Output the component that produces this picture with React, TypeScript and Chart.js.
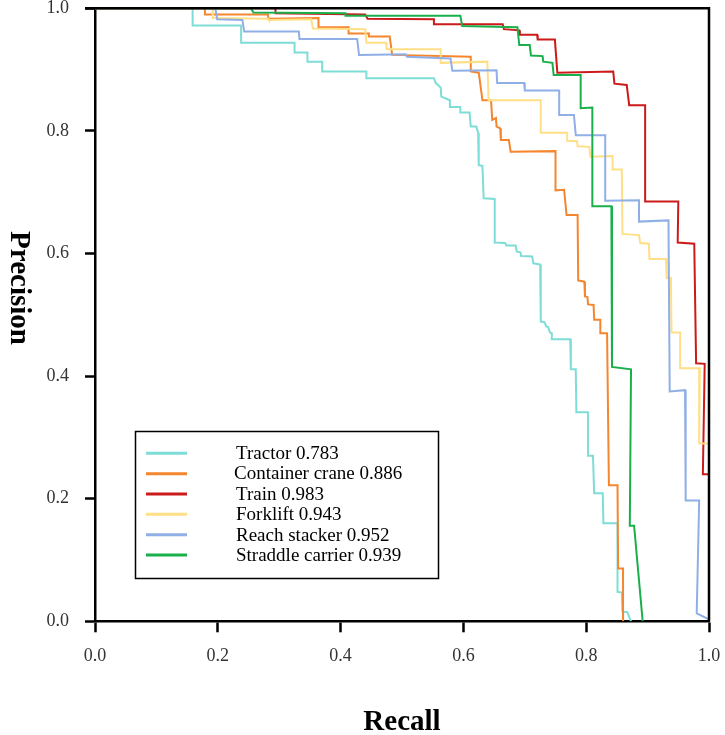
import React, { useEffect, useRef } from "react";
import { Chart, registerables } from "chart.js";

Chart.register(...registerables);

const seriesLabels = [
  "Tractor 0.783",
  "Container crane 0.886",
  "Train 0.983",
  "Forklift 0.943",
  "Reach stacker 0.952",
  "Straddle carrier 0.939",
];
const seriesColors = ["#7EDDD6", "#F5862E", "#CC1A1A", "#FFDF85", "#90AFE6", "#19B04B"];

const tickValues = [0, 0.2, 0.4, 0.6, 0.8, 1.0];

const tractorRecall = [0, 0.159, 0.159, 0.238, 0.238, 0.325, 0.325, 0.346, 0.346, 0.370, 0.370, 0.442, 0.442, 0.552, 0.555, 0.563, 0.564, 0.578, 0.578, 0.595, 0.595, 0.610, 0.612, 0.621, 0.624, 0.625, 0.631, 0.633, 0.651, 0.651, 0.668, 0.670, 0.685, 0.687, 0.693, 0.694, 0.712, 0.714, 0.725, 0.726, 0.732, 0.735, 0.738, 0.741, 0.744, 0.744, 0.774, 0.775, 0.783, 0.784, 0.803, 0.803, 0.811, 0.813, 0.827, 0.828, 0.851, 0.851, 0.858, 0.859, 0.867, 0.873];
const tractorPrecision = [1.0, 1.0, 0.972, 0.972, 0.944, 0.944, 0.928, 0.928, 0.913, 0.913, 0.897, 0.897, 0.886, 0.886, 0.878, 0.871, 0.856, 0.850, 0.839, 0.839, 0.830, 0.830, 0.807, 0.807, 0.797, 0.744, 0.743, 0.690, 0.689, 0.618, 0.617, 0.613, 0.613, 0.603, 0.602, 0.596, 0.595, 0.584, 0.582, 0.489, 0.488, 0.481, 0.480, 0.471, 0.470, 0.460, 0.460, 0.411, 0.411, 0.341, 0.341, 0.270, 0.270, 0.209, 0.209, 0.160, 0.160, 0.048, 0.047, 0.016, 0.015, 0.0];

const craneRecall = [0, 0.179, 0.179, 0.282, 0.282, 0.364, 0.364, 0.413, 0.413, 0.446, 0.446, 0.480, 0.484, 0.612, 0.612, 0.625, 0.631, 0.645, 0.647, 0.653, 0.654, 0.660, 0.661, 0.674, 0.677, 0.750, 0.750, 0.764, 0.768, 0.786, 0.787, 0.797, 0.798, 0.802, 0.803, 0.812, 0.813, 0.823, 0.823, 0.834, 0.837, 0.851, 0.852, 0.860, 0.860];
const cranePrecision = [1.0, 1.0, 0.990, 0.990, 0.983, 0.984, 0.969, 0.969, 0.959, 0.959, 0.954, 0.954, 0.924, 0.921, 0.897, 0.895, 0.850, 0.850, 0.818, 0.821, 0.807, 0.804, 0.785, 0.785, 0.766, 0.767, 0.703, 0.704, 0.663, 0.663, 0.556, 0.554, 0.530, 0.529, 0.517, 0.516, 0.492, 0.492, 0.470, 0.470, 0.222, 0.222, 0.086, 0.086, 0.0];

const trainRecall = [0, 0.294, 0.294, 0.440, 0.444, 0.552, 0.552, 0.664, 0.666, 0.691, 0.692, 0.720, 0.721, 0.749, 0.753, 0.844, 0.846, 0.866, 0.870, 0.896, 0.896, 0.950, 0.949, 0.976, 0.979, 0.993, 0.990, 1.0];
const trainPrecision = [1.0, 1.0, 0.992, 0.990, 0.983, 0.982, 0.974, 0.974, 0.966, 0.964, 0.957, 0.957, 0.949, 0.949, 0.895, 0.897, 0.877, 0.875, 0.842, 0.842, 0.685, 0.685, 0.618, 0.616, 0.421, 0.420, 0.240, 0.240];

const forkliftRecall = [0, 0.191, 0.192, 0.282, 0.283, 0.352, 0.355, 0.440, 0.442, 0.474, 0.475, 0.563, 0.563, 0.639, 0.641, 0.726, 0.726, 0.769, 0.769, 0.785, 0.786, 0.805, 0.807, 0.843, 0.843, 0.858, 0.859, 0.886, 0.888, 0.902, 0.903, 0.930, 0.931, 0.938, 0.939, 0.953, 0.953, 0.985, 0.984, 1.0];
const forkliftPrecision = [1.0, 1.0, 0.984, 0.983, 0.981, 0.982, 0.967, 0.966, 0.944, 0.944, 0.933, 0.933, 0.911, 0.913, 0.850, 0.850, 0.797, 0.797, 0.784, 0.783, 0.775, 0.774, 0.758, 0.759, 0.737, 0.737, 0.632, 0.630, 0.617, 0.616, 0.591, 0.591, 0.560, 0.560, 0.471, 0.471, 0.413, 0.413, 0.290, 0.290];

const reachRecall = [0, 0.196, 0.199, 0.240, 0.243, 0.332, 0.333, 0.427, 0.430, 0.506, 0.508, 0.579, 0.582, 0.654, 0.655, 0.699, 0.700, 0.756, 0.756, 0.780, 0.783, 0.831, 0.831, 0.886, 0.886, 0.934, 0.936, 0.961, 0.962, 0.984, 0.980, 1.0];
const reachPrecision = [1.0, 1.0, 0.982, 0.981, 0.962, 0.962, 0.950, 0.950, 0.924, 0.925, 0.921, 0.918, 0.898, 0.899, 0.878, 0.878, 0.866, 0.866, 0.826, 0.826, 0.793, 0.793, 0.686, 0.687, 0.652, 0.654, 0.375, 0.377, 0.197, 0.197, 0.013, 0.003];

const straddleRecall = [0, 0.254, 0.258, 0.408, 0.408, 0.595, 0.598, 0.688, 0.691, 0.708, 0.710, 0.729, 0.730, 0.745, 0.747, 0.791, 0.791, 0.810, 0.810, 0.841, 0.842, 0.873, 0.871, 0.878, 0.892];
const straddlePrecision = [1.0, 1.0, 0.993, 0.992, 0.988, 0.988, 0.971, 0.969, 0.940, 0.940, 0.923, 0.922, 0.913, 0.911, 0.891, 0.891, 0.837, 0.838, 0.677, 0.677, 0.415, 0.411, 0.156, 0.156, 0.0];

const seriesRecall = [tractorRecall, craneRecall, trainRecall, forkliftRecall, reachRecall, straddleRecall];
const seriesPrecision = [tractorPrecision, cranePrecision, trainPrecision, forkliftPrecision, reachPrecision, straddlePrecision];

const SERIF = "'Liberation Serif', 'Times New Roman', serif";

const framePlugin = {
  id: "frameAndLegend",
  afterDatasetsDraw(chart: any) {
    const { ctx, chartArea } = chart;
    const { left, top, right, bottom } = chartArea;
    ctx.save();
    // top and right frame
    ctx.strokeStyle = "#000";
    ctx.lineWidth = 2.5;
    ctx.beginPath();
    ctx.moveTo(left - 10, top);
    ctx.lineTo(right, top);
    ctx.lineTo(right, bottom);
    ctx.stroke();

    // legend box
    const bx = 135.5, by = 431.5, bw = 303, bh = 147;
    ctx.fillStyle = "#fff";
    ctx.fillRect(bx, by, bw, bh);
    ctx.lineWidth = 1.5;
    ctx.strokeStyle = "#000";
    ctx.strokeRect(bx, by, bw, bh);
    ctx.font = `19px ${SERIF}`;
    ctx.textAlign = "left";
    ctx.textBaseline = "alphabetic";
    chart.data.datasets.forEach((ds: any, i: number) => {
      const y = 453.3 + i * 20.35;
      ctx.strokeStyle = ds.borderColor;
      ctx.lineWidth = 3;
      ctx.beginPath();
      ctx.moveTo(146, y);
      ctx.lineTo(187, y);
      ctx.stroke();
      ctx.fillStyle = "#000";
      ctx.fillText(ds.label, i === 1 ? 234 : 236, y + 5.8);
    });

    // axis titles
    ctx.fillStyle = "#000";
    ctx.font = `bold 29px ${SERIF}`;
    ctx.textAlign = "center";
    ctx.textBaseline = "middle";
    ctx.fillText("Recall", (left + right) / 2, 723);
    ctx.translate(18, 288);
    ctx.rotate(Math.PI / 2);
    ctx.fillText("Precision", 0, 0);
    ctx.restore();
  },
};

export default function App() {
  const canvasRef = useRef<HTMLCanvasElement | null>(null);

  useEffect(() => {
    const canvas = canvasRef.current;
    if (!canvas) return;
    const datasets = seriesLabels.map((label, i) => ({
      label,
      data: seriesRecall[i].map((r, j) => ({ x: r, y: seriesPrecision[i][j] })),
      borderColor: seriesColors[i],
      backgroundColor: seriesColors[i],
      borderWidth: 2,
      pointRadius: 0,
      fill: false,
      tension: 0,
      order: seriesLabels.length - i,
    }));
    const chart = new Chart(canvas, {
      type: "line",
      data: { datasets },
      plugins: [framePlugin],
      options: {
        responsive: false,
        animation: false,
        devicePixelRatio: 1,
        layout: { padding: { top: 8.3, right: 16, left: 0, bottom: 0 } },
        plugins: {
          legend: { display: false },
          tooltip: { enabled: false },
          title: { display: false },
        },
        scales: {
          x: {
            type: "linear",
            min: 0,
            max: 1,
            afterBuildTicks: (scale: any) => {
              scale.ticks = tickValues.map((v) => ({ value: v }));
            },
            afterFit: (scale: any) => {
              scale.height = 735 - 621.3;
              scale.paddingLeft = 0;
              scale.paddingRight = 0;
            },
            ticks: {
              callback: (v: any) => Number(v).toFixed(1),
              color: "#333",
              font: { family: SERIF, size: 18 },
              padding: 13,
              maxRotation: 0,
              autoSkip: false,
            },
            grid: {
              drawOnChartArea: false,
              drawTicks: true,
              tickLength: 11,
              tickColor: "#000",
              tickWidth: 2.5,
            },
            border: { display: true, color: "#000", width: 2.5 },
          },
          y: {
            type: "linear",
            min: 0,
            max: 1,
            afterBuildTicks: (scale: any) => {
              scale.ticks = tickValues.map((v) => ({ value: v }));
            },
            afterFit: (scale: any) => {
              scale.width = 95;
              scale.paddingTop = 0;
              scale.paddingBottom = 0;
            },
            ticks: {
              callback: (v: any) => Number(v).toFixed(1),
              color: "#333",
              font: { family: SERIF, size: 18 },
              padding: 16,
              autoSkip: false,
            },
            grid: {
              drawOnChartArea: false,
              drawTicks: true,
              tickLength: 10,
              tickColor: "#000",
              tickWidth: 2.5,
            },
            border: { display: true, color: "#000", width: 2.5 },
          },
        },
      },
    } as any);
    return () => chart.destroy();
  }, []);

  return (
    <div style={{ position: "absolute", left: 0, top: 0, width: 725, height: 735, background: "#fff" }}>
      <canvas ref={canvasRef} width={725} height={735} style={{ display: "block", width: 725, height: 735 }} />
    </div>
  );
}
